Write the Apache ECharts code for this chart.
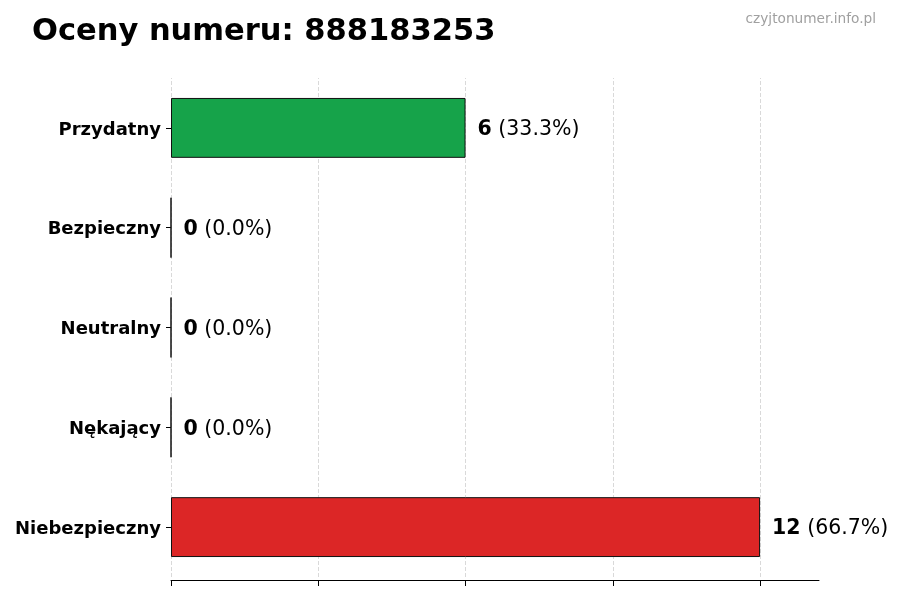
<!DOCTYPE html>
<html>
<head>
<meta charset="utf-8">
<script src="https://cdn.jsdelivr.net/npm/echarts@6/dist/echarts.min.js"></script>
<style>
  html, body { margin: 0; padding: 0; background: #fff; }
  #chart { width: 900px; height: 600px; }
</style>
</head>
<body>
<div id="chart"></div>
<script>
const categories = ['Przydatny', 'Bezpieczny', 'Neutralny', 'Nękający', 'Niebezpieczny'];
const counts = [6, 0, 0, 0, 12];
const barColors = ['#16a34a', '#16a34a', '#9ca3af', '#dc2626', '#dc2626'];
const xTicks = [0, 3, 6, 9, 12];
const phone = '888183253';

const total = counts.reduce((a, b) => a + b, 0);
// ECharts category axis goes bottom->top, so reverse
const yCats = categories.slice().reverse();
const data = counts.map((v, i) => ({
  value: v,
  pct: (v / total * 100).toFixed(1),
  itemStyle: { color: barColors[i] }
})).reverse();

const chart = echarts.init(document.getElementById('chart'));
chart.setOption({
  animation: false,
  textStyle: { fontFamily: 'DejaVu Sans' },
  title: [{
    text: 'Oceny numeru: ' + phone,
    left: 27, top: 12,
    textStyle: { fontSize: 30.5, fontWeight: 'bold', color: '#000', fontFamily: 'DejaVu Sans' }
  }, {
    text: 'czyjtonumer.info.pl',
    right: 19, top: 7,
    textStyle: { fontSize: 13.7, fontWeight: 'normal', color: '#a0a0a0', fontFamily: 'DejaVu Sans' }
  }],
  grid: { left: 171, right: 81, top: 78, bottom: 23, containLabel: false },
  xAxis: {
    type: 'value', min: 0, max: 13.2, interval: 3, offset: 3,
    axisLine: { show: true, onZero: false, lineStyle: { color: '#000', width: 1 } },
    axisTick: { show: true, length: 6, customValues: xTicks, lineStyle: { color: '#000' } },
    axisLabel: { show: false },
    splitLine: { show: false }
  },
  yAxis: {
    type: 'category', data: yCats,
    axisLine: { show: false },
    axisTick: { show: true, alignWithLabel: true, length: 5, lineStyle: { color: '#000' } },
    axisLabel: {
      fontSize: 18, fontWeight: 'bold', color: '#000', margin: 10, fontFamily: 'DejaVu Sans',
      formatter: v => '{c|' + v + '}',
      rich: { c: { fontSize: 18, fontWeight: 'bold', color: '#000', fontFamily: 'DejaVu Sans', padding: [4, 0, 0, 0] } }
    }
  },
  series: [{
    type: 'bar',
    data: data,
    barWidth: '60%',
    z: 3,
    itemStyle: { borderColor: '#111', borderWidth: 1 },
    label: {
      show: true, position: 'right', distance: 12, offset: [0, 2],
      formatter: p => '{b|' + p.value + '}{n| (' + p.data.pct + '%)}',
      rich: {
        b: { fontSize: 20.5, fontWeight: 'bold', color: '#000', fontFamily: 'DejaVu Sans' },
        n: { fontSize: 20.5, color: '#000', fontFamily: 'DejaVu Sans' }
      }
    },
    // vertical dashed grid lines at tick positions (matplotlib style, none at the axis end)
    markLine: {
      silent: true,
      symbol: 'none',
      z: 1,
      label: { show: false },
      lineStyle: { type: 'dashed', color: '#d9d9d9', width: 1 },
      data: xTicks.map(v => ({ xAxis: v }))
    }
  }]
});
</script>
</body>
</html>
